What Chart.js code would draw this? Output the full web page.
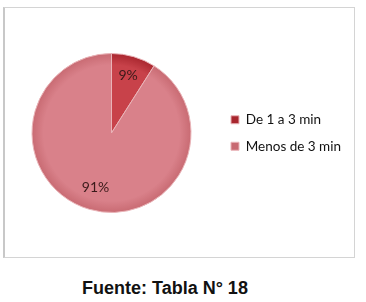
<!DOCTYPE html>
<html>
<head>
<meta charset="utf-8">
<script src="https://cdn.jsdelivr.net/npm/chart.js"></script>
<style>
  body { margin:0; background:#fff; width:366px; height:302px; position:relative; overflow:hidden; }
  #marco { position:absolute; left:3px; top:7px; width:349px; height:249px; border:1px solid #d4d4d4; border-left:2px solid #c8c8c8; }
  #fuente { position:absolute; left:82px; top:278px; font-family:"Liberation Sans", Arial, sans-serif; font-weight:bold; font-size:18px; color:#111; }
</style>
</head>
<body>
<div id="marco"><canvas id="canvas1" width="349" height="249"></canvas></div>
<div id="fuente">Fuente: Tabla N° 18</div>
<script>
  const categorias = ["De 1 a 3 min", "Menos de 3 min"];
  const porcentajes = [9, 91];
  const colores = ["#c8424a", "#d9818a"];
  const coloresOscuros = ["#a8262e", "#c86a72"];

  // etiquetas de porcentaje dentro de cada rebanada
  const etiquetas = {
    id: 'etiquetas',
    afterDatasetsDraw(chart) {
      const ctx = chart.ctx;
      const meta = chart.getDatasetMeta(0);
      ctx.save();
      ctx.font = '14px Lato, sans-serif';
      ctx.fillStyle = '#3a1a1a';
      ctx.textAlign = 'center';
      ctx.textBaseline = 'middle';
      meta.data.forEach(function(arc, i) {
        const p = arc.getProps(['x','y','startAngle','endAngle','outerRadius']);
        const a = (p.startAngle + p.endAngle) / 2;
        const r = p.outerRadius * (i == 0 ? 0.75 : 0.72);
        ctx.fillText(porcentajes[i] + '%', p.x + Math.cos(a) * r, p.y + Math.sin(a) * r);
      });
      ctx.restore();
    }
  };

  var myChart = new Chart(document.getElementById('canvas1'), {
    type: 'pie',
    data: {
      labels: categorias,
      datasets: [{
        data: porcentajes,
        backgroundColor: function(c) {
          const chart = c.chart;
          const a = chart.chartArea;
          if (!a) return colores[c.dataIndex];
          const cx = (a.left + a.right) / 2, cy = (a.top + a.bottom) / 2;
          const r = Math.min(a.right - a.left, a.bottom - a.top) / 2;
          const g = chart.ctx.createRadialGradient(cx, cy, 0, cx, cy, r);
          g.addColorStop(0, colores[c.dataIndex]);
          g.addColorStop(0.85, colores[c.dataIndex]);
          g.addColorStop(1, coloresOscuros[c.dataIndex]);
          return g;
        },
        borderColor: '#e9b4b8',
        borderWidth: 1
      }]
    },
    options: {
      responsive: false,
      animation: false,
      layout: { padding: { top: 45, bottom: 44, left: 0, right: 3 } },
      plugins: {
        tooltip: { enabled: false },
        legend: {
          position: 'right',
          labels: {
            boxWidth: 8, boxHeight: 8, padding: 13,
            color: '#111',
            font: { family: 'Lato, sans-serif', size: 13.5 }
          }
        }
      }
    },
    plugins: [etiquetas]
  });
</script>
</body>
</html>
